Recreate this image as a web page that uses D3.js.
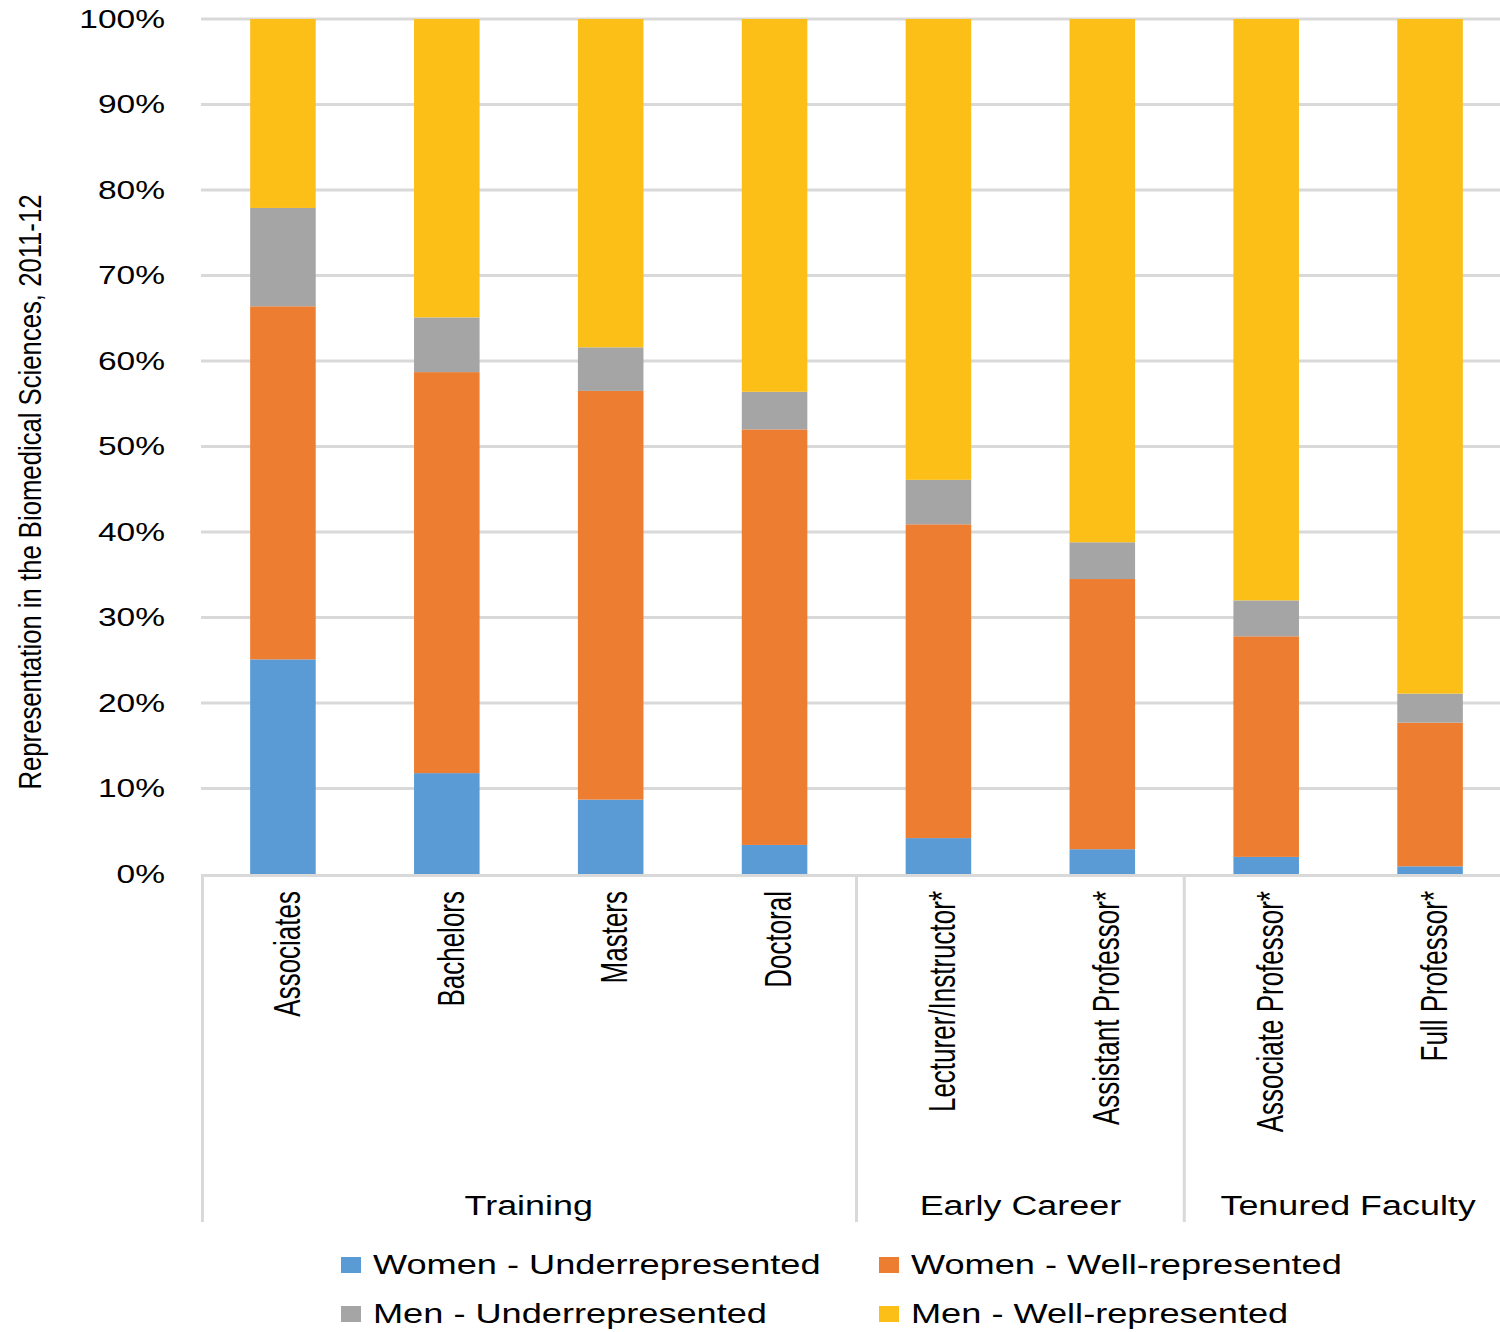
<!DOCTYPE html>
<html>
<head>
<meta charset="utf-8">
<style>
  body { margin: 0; background: #fff; }
  text { font-family: "Liberation Sans", Arial, sans-serif; fill: #000; }
</style>
</head>
<body>
<svg width="1500" height="1332"></svg>
<script src="https://d3js.org/d3.v7.min.js"></script>
<script>
    // data (percent of each level)
    var categories = ["Associates", "Bachelors", "Masters", "Doctoral",
        "Lecturer/Instructor*", "Assistant Professor*", "Associate Professor*", "Full Professor*"];
    var categoryGroup = ["Training", "Training", "Training", "Training",
        "Early Career", "Early Career", "Tenured Faculty", "Tenured Faculty"];
    var groupNames = ["Training", "Early Career", "Tenured Faculty"];

    var seriesNames = ["Women - Underrepresented", "Women - Well-represented",
        "Men - Underrepresented", "Men - Well-represented"];
    var womenUnder = [25.1, 11.8, 8.7, 3.4, 4.2, 2.9, 2.0, 0.9];
    var womenWell = [41.3, 46.9, 47.8, 48.6, 36.7, 31.6, 25.8, 16.8];
    var menUnder = [11.5, 6.4, 5.1, 4.4, 5.2, 4.3, 4.2, 3.4];
    var menWell = [22.1, 34.9, 38.4, 43.6, 53.9, 61.2, 68.0, 78.9];

    var yTicks = [0, 10, 20, 30, 40, 50, 60, 70, 80, 90, 100];
    var yTitle = "Representation in the Biomedical Sciences, 2011-12";

    var colors = ["#5b9bd5", "#ed7d31", "#a5a5a5", "#fbbf18"];

    var svg = d3.select("svg");

    var table = categories.map(function (c, i) {
        var row = { cat: c };
        row[seriesNames[0]] = womenUnder[i];
        row[seriesNames[1]] = womenWell[i];
        row[seriesNames[2]] = menUnder[i];
        row[seriesNames[3]] = menWell[i];
        return row;
    });

    var x = d3.scaleBand().domain(categories).range([201, 1512]).paddingInner(0.6).paddingOuter(0.3),
        y = d3.scaleLinear().domain([0, 100]).range([874, 19]),
        z = d3.scaleOrdinal().domain(seriesNames).range(colors);

    var gridColor = "#d9d9d9";

    // gridlines
    svg.append("g")
        .selectAll("line")
        .data(yTicks.filter(function (d) { return d > 0; }))
        .enter().append("line")
        .attr("x1", 201).attr("x2", 1512)
        .attr("y1", function (d) { return y(d); })
        .attr("y2", function (d) { return y(d); })
        .attr("stroke", gridColor)
        .attr("stroke-width", 3);

    // y tick labels (text is stretched sideways like the original)
    svg.append("g")
        .selectAll("g")
        .data(yTicks)
        .enter().append("g")
        .attr("transform", function (d) { return "translate(165," + y(d) + ") scale(1.34,1)"; })
        .append("text")
        .attr("text-anchor", "end")
        .attr("dy", "0.35em")
        .style("font-size", "25px")
        .text(function (d) { return d + "%"; });

    // y title
    svg.append("text")
        .attr("transform", "translate(41,492) rotate(-90)")
        .attr("text-anchor", "middle")
        .attr("textLength", 595)
        .attr("lengthAdjust", "spacingAndGlyphs")
        .style("font-size", "32px")
        .text(yTitle);

    // stacked bars
    var stack = d3.stack().keys(seriesNames);
    var layers = stack(table);

    svg.append("g")
        .selectAll("g")
        .data(layers)
        .enter().append("g")
        .attr("fill", function (d) { return z(d.key); })
        .selectAll("rect")
        .data(function (d) { return d; })
        .enter().append("rect")
        .attr("x", function (d) { return x(d.data.cat); })
        .attr("y", function (d) { return y(d[1]); })
        .attr("height", function (d) { return y(d[0]) - y(d[1]); })
        .attr("width", x.bandwidth());

    // x axis line
    svg.append("line")
        .attr("x1", 201).attr("x2", 1512)
        .attr("y1", 875.5).attr("y2", 875.5)
        .attr("stroke", gridColor)
        .attr("stroke-width", 3);

    // group separators
    var step = x.step();
    var x0 = x.range()[0];
    var bounds = [0];
    categoryGroup.forEach(function (g, i) {
        if (i > 0 && g !== categoryGroup[i - 1]) bounds.push(i);
    });
    bounds.push(categories.length);

    svg.append("g")
        .selectAll("line")
        .data(bounds.slice(0, -1))
        .enter().append("line")
        .attr("x1", function (d) { return x0 + d * step + (d === 0 ? 1.5 : 0); })
        .attr("x2", function (d) { return x0 + d * step + (d === 0 ? 1.5 : 0); })
        .attr("y1", 874).attr("y2", 1222)
        .attr("stroke", gridColor)
        .attr("stroke-width", 3);

    // category labels
    svg.append("g")
        .selectAll("g")
        .data(categories)
        .enter().append("g")
        .attr("transform", function (d) {
            return "translate(" + (x(d) + x.bandwidth() / 2 + 4) + ",891) scale(1.4,1) rotate(-90)";
        })
        .append("text")
        .attr("text-anchor", "end")
        .attr("dy", "0.35em")
        .style("font-size", "26px")
        .text(function (d) { return d; });

    // group labels
    svg.append("g")
        .selectAll("g")
        .data(groupNames)
        .enter().append("g")
        .attr("transform", function (d, i) {
            var cx = x0 + (bounds[i] + bounds[i + 1]) / 2 * step;
            return "translate(" + cx + ",1215) scale(1.33,1)";
        })
        .append("text")
        .attr("text-anchor", "middle")
        .style("font-size", "27px")
        .text(function (d) { return d; });

    // legend
    var legend = svg.append("g")
        .selectAll("g")
        .data(seriesNames)
        .enter().append("g")
        .attr("transform", function (d, i) {
            return "translate(" + (i % 2 === 0 ? 341 : 879) + "," + (i < 2 ? 1265 : 1314) + ")";
        });

    legend.append("rect")
        .attr("x", 0).attr("y", -8)
        .attr("width", 20).attr("height", 16)
        .attr("fill", function (d) { return z(d); });

    legend.append("g")
        .attr("transform", "translate(32,0) scale(1.34,1)")
        .append("text")
        .attr("dy", "0.35em")
        .style("font-size", "27px")
        .text(function (d) { return d; });
</script>
</body>
</html>
